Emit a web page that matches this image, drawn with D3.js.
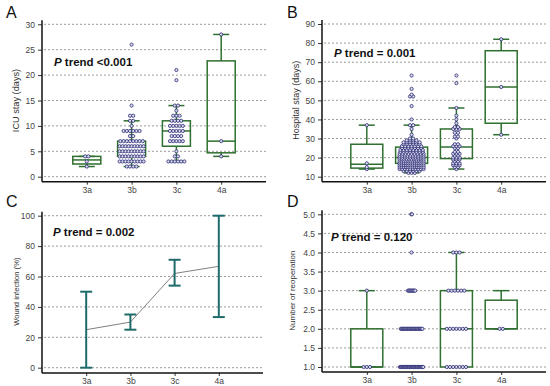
<!DOCTYPE html>
<html>
<head>
<meta charset="utf-8">
<script src="https://cdn.jsdelivr.net/npm/d3@7"></script>
<style>
  body { margin: 0; background: #fff; }
  svg { display: block; font-family: "Liberation Sans", Arial, sans-serif; }
</style>
</head>
<body>
<div id="chart"></div>
<script>
var groups = ["3a", "3b", "3c", "4a"];

// A - ICU stay, box stats [min, q1, median, q3, max]
var icuBox = [[2, 2.5, 3.3, 4, 4], [2, 4, 5, 7, 11], [3, 6, 9, 11, 14], [4, 4.7, 7, 22.8, 28]];
// dots as [value, count]
var icuDots = [
  [[2, 1], [3, 1], [4, 2]],
  [[2, 4], [3, 9], [4, 9], [5, 9], [6, 9], [7, 8], [8, 2], [9, 6], [10, 1], [11, 2], [12, 2], [14, 1], [26, 1]],
  [[3, 6], [4, 2], [5, 1], [7, 5], [8, 4], [9, 5], [10, 5], [11, 4], [12, 3], [13, 1], [14, 2], [19, 1], [21, 1]],
  [[4, 1], [7, 1], [28, 1]]
];
var icuTicks = [0, 5, 10, 15, 20, 25, 30];

// B - hospital stay
var hospBox = [[14, 14.5, 16.5, 27, 37], [12, 17, 20, 25.5, 37], [14, 19.5, 25.5, 35, 46], [32, 38, 57, 76, 82]];
var hospDots = [
  [[14, 1], [15, 1], [17, 1], [37, 1]],
  [[12, 3], [13, 6], [14, 10], [15, 12], [16, 12], [17, 12], [18, 12], [19, 11], [20, 10], [21, 10], [22, 9],
   [23, 8], [24, 8], [25, 7], [26, 7], [27, 6], [28, 6], [29, 4], [30, 2], [32, 1], [35, 1], [37, 2],
   [40, 1], [47, 1], [52, 2], [53, 1], [56, 1], [63, 1]],
  [[14, 1], [15, 2], [16, 3], [17, 3], [18, 2], [19, 3], [20, 3], [21, 2], [22, 3], [23, 2], [25, 2], [26, 3],
   [27, 2], [30, 1], [31, 2], [33, 2], [35, 3], [36, 2], [38, 1], [40, 1], [42, 1], [46, 1], [59, 1], [63, 1]],
  [[32, 1], [57, 1], [82, 1]]
];
var hospTicks = [10, 20, 30, 40, 50, 60, 70, 80, 90];

// C - wound infection (%)
var woundMean = [25, 30, 62, 66.7];
var woundLow = [0, 25, 54, 33.3];
var woundHigh = [50, 35, 71, 100];
var woundTicks = [0, 20, 40, 60, 80, 100];

// D - reoperation
var reopBox = [[1, 1, 1, 2, 3], null, [1, 1, 2, 3, 4], [2, 2, 2, 2.75, 3]];
var reopDots = [
  [[1, 3], [3, 1]],
  [[1, 30], [2, 28], [3, 10], [4, 1], [5, 2]],
  [[1, 7], [2, 7], [3, 6], [4, 3]],
  [[2, 2]]
];
var reopTicks = [1.0, 1.5, 2.0, 2.5, 3.0, 3.5, 4.0, 4.5, 5.0];

var panels = [
  { letter: "A", lx: 6, ly: 18, left: 42, right: 266, yTop: 24.3, yBot: 176.7, axisY: 181.7, domain: [0, 30],
    ticks: icuTicks, fmt: d3.format("d"), label: "ICU stay (days)", labelX: 16, labelSize: 9.2,
    ptext: "trend <0.001", px: 54, py: 66, box: icuBox, dots: icuDots, boxW: 28, spacing: [3.2, 3.2, 3.2, 3.2] },
  { letter: "B", lx: 287, ly: 18, left: 322, right: 546, yTop: 24, yBot: 176.7, axisY: 181.7, domain: [10, 90],
    ticks: hospTicks, fmt: d3.format("d"), label: "Hospital stay (days)", labelX: 296, labelSize: 9,
    ptext: "trend = 0.001", px: 334, py: 57, box: hospBox, dots: hospDots, boxW: 32, spacing: [3.2, 3.2, 3.2, 3.2] },
  { letter: "C", lx: 6, ly: 207, left: 42, right: 263, yTop: 215.7, yBot: 367.7, axisY: 373, domain: [0, 100],
    ticks: woundTicks, fmt: d3.format("d"), label: "Wound infection (%)", labelX: 16, labelSize: 7.6,
    ptext: "trend = 0.002", px: 53, py: 236 },
  { letter: "D", lx: 287, ly: 207, left: 322, right: 546, yTop: 214.3, yBot: 367, axisY: 372, domain: [1, 5],
    ticks: reopTicks, fmt: d3.format(".1f"), label: "Number of reoperation", labelX: 292, labelSize: 8,
    ptext: "trend = 0.120", px: 331, py: 241, box: reopBox, dots: reopDots, boxW: 32, spacing: [3.2, 0.8, 3.2, 3.2] }
];

var svg = d3.select("#chart").append("svg")
  .attr("width", 550).attr("height", 386);

var boxColor = "#2f6f2f";

var dotOffsets = function (n, spacing, maxW) {
  var s = n > 1 ? Math.min(spacing, maxW / (n - 1)) : 0;
  return d3.range(n).map(function (i) { return (i - (n - 1) / 2) * s; });
};

panels.forEach(function (p, pi) {
  var g = svg.append("g");
  var y = d3.scaleLinear().domain(p.domain).range([p.yBot, p.yTop]);
  var x = d3.scalePoint().domain(groups).range([p.left, p.right]).padding(1);

  // letter
  g.append("text").attr("x", p.lx).attr("y", p.ly)
    .attr("font-size", "16px").attr("fill", "#111").text(p.letter);

  // dotted grid
  g.selectAll(".grid").data(p.ticks).enter().append("line")
    .attr("x1", p.left + 2).attr("x2", p.right)
    .attr("y1", function (d) { return y(d); }).attr("y2", function (d) { return y(d); })
    .attr("stroke", "#9a9a9a").attr("stroke-width", 1).attr("stroke-dasharray", "2,2");

  // y axis
  var yAxis = d3.axisLeft(y).tickValues(p.ticks).tickFormat(p.fmt).tickSize(4).tickPadding(3);
  var ya = g.append("g").attr("transform", "translate(" + p.left + ",0)").call(yAxis);
  ya.select(".domain").remove();
  ya.selectAll("text").attr("font-size", "8.5px").attr("fill", "#444").attr("font-family", "Liberation Sans, Arial");
  ya.selectAll("line").attr("stroke", "#333");

  g.append("line").attr("x1", p.left).attr("x2", p.left)
    .attr("y1", p.yTop - 4).attr("y2", p.axisY)
    .attr("stroke", "#111").attr("stroke-width", 1.5);

  // x axis
  var xAxis = d3.axisBottom(x).tickSize(3).tickPadding(2);
  var xa = g.append("g").attr("transform", "translate(0," + p.axisY + ")").call(xAxis);
  xa.select(".domain").remove();
  xa.selectAll("text").attr("font-size", "8.5px").attr("fill", "#444").attr("font-family", "Liberation Sans, Arial");
  xa.selectAll("line").attr("stroke", "#333");
  g.append("line").attr("x1", p.left).attr("x2", p.right)
    .attr("y1", p.axisY).attr("y2", p.axisY)
    .attr("stroke", "#111").attr("stroke-width", 1.5);

  // y label
  var cy = (p.yTop + p.yBot) / 2;
  g.append("text")
    .attr("transform", "translate(" + p.labelX + "," + cy + ") rotate(-90)")
    .attr("text-anchor", "middle").attr("dy", "0.35em")
    .attr("font-size", p.labelSize + "px").attr("fill", "#333")
    .text(p.label);

  // boxes
  if (p.box) {
    p.box.forEach(function (b, i) {
      if (!b) { return; }
      var cx = x(groups[i]), hw = p.boxW / 2, cw = 8;
      var bg = g.append("g").attr("stroke", boxColor).attr("stroke-width", 1.5).attr("fill", "none");
      bg.append("line").attr("x1", cx).attr("x2", cx).attr("y1", y(b[3])).attr("y2", y(b[4]));
      bg.append("line").attr("x1", cx).attr("x2", cx).attr("y1", y(b[1])).attr("y2", y(b[0]));
      bg.append("line").attr("x1", cx - cw).attr("x2", cx + cw).attr("y1", y(b[4])).attr("y2", y(b[4]));
      bg.append("line").attr("x1", cx - cw).attr("x2", cx + cw).attr("y1", y(b[0])).attr("y2", y(b[0]));
      bg.append("rect").attr("x", cx - hw).attr("width", p.boxW)
        .attr("y", y(b[3])).attr("height", y(b[1]) - y(b[3]));
      bg.append("line").attr("x1", cx - hw).attr("x2", cx + hw).attr("y1", y(b[2])).attr("y2", y(b[2]));
    });
  }

  // dots
  if (p.dots) {
    p.dots.forEach(function (rows, i) {
      var cx = x(groups[i]);
      rows.forEach(function (r) {
        dotOffsets(r[1], p.spacing[i], 24).forEach(function (off) {
          g.append("circle").attr("cx", cx + off).attr("cy", y(r[0])).attr("r", 1.6)
            .attr("fill", "#dcdcf0").attr("stroke", "#2a2a72").attr("stroke-width", 0.8);
        });
      });
    });
  }

  // panel C: means with error bars
  if (pi == 2) {
    var line = d3.line()
      .x(function (d, i) { return x(groups[i]); })
      .y(function (d) { return y(d); });
    g.append("path").datum(woundMean).attr("d", line)
      .attr("fill", "none").attr("stroke", "#808080").attr("stroke-width", 1);
    var teal = "#1f6b6b";
    groups.forEach(function (k, i) {
      var cx = x(k), cw = 6;
      var eg = g.append("g").attr("stroke", teal).attr("stroke-width", 2);
      eg.append("line").attr("x1", cx).attr("x2", cx).attr("y1", y(woundLow[i])).attr("y2", y(woundHigh[i]));
      eg.append("line").attr("x1", cx - cw).attr("x2", cx + cw).attr("y1", y(woundLow[i])).attr("y2", y(woundLow[i]));
      eg.append("line").attr("x1", cx - cw).attr("x2", cx + cw).attr("y1", y(woundHigh[i])).attr("y2", y(woundHigh[i]));
    });
  }

  // P trend
  var t = g.append("text").attr("x", p.px).attr("y", p.py)
    .attr("font-size", "11.5px").attr("font-weight", "bold").attr("fill", "#111");
  t.append("tspan").attr("font-style", "italic").text("P");
  t.append("tspan").text(" " + p.ptext);
});
</script>
</body>
</html>
